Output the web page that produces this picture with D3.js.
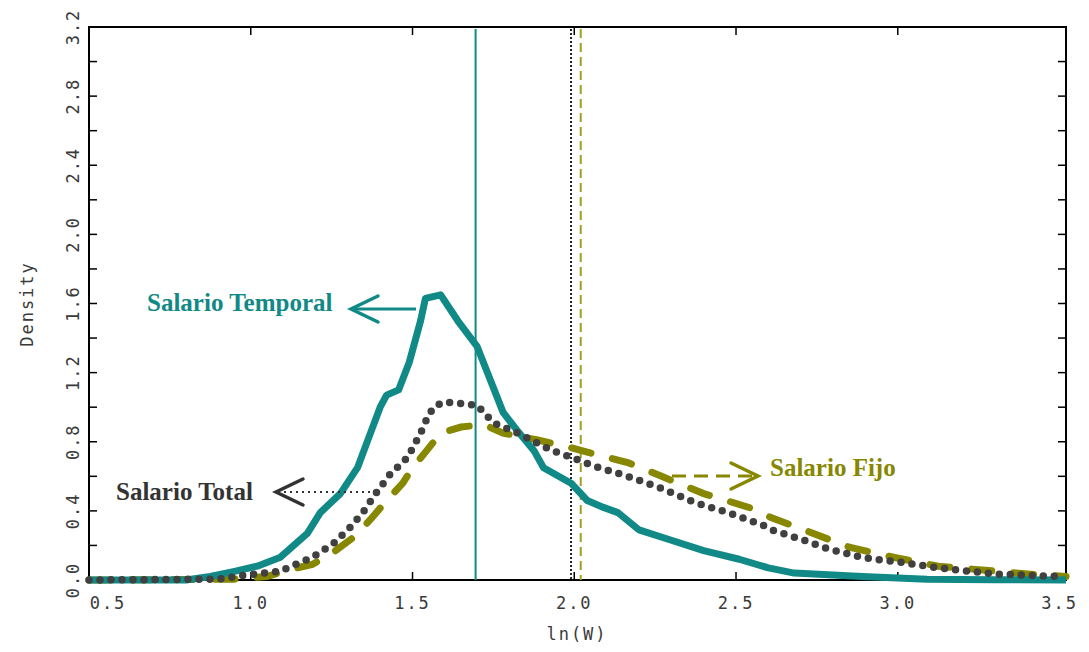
<!DOCTYPE html>
<html>
<head>
<meta charset="utf-8">
<script src="https://cdn.jsdelivr.net/npm/d3@7"></script>
<style>
  body { margin: 0; background: #fff; }
  svg { display: block; }
</style>
</head>
<body>
<svg id="chart"></svg>
<script>
// Salario Temporal (solid teal)
const temporalX = [0.5, 0.8, 0.875, 0.95, 1.02, 1.09, 1.175, 1.215, 1.277, 1.33, 1.37, 1.40, 1.42, 1.457, 1.49, 1.525, 1.54, 1.587, 1.64, 1.70, 1.74, 1.78, 1.83, 1.875, 1.905, 1.99, 2.04, 2.09, 2.135, 2.20, 2.30, 2.40, 2.51, 2.60, 2.68, 2.89, 3.09, 3.3, 3.52];
const temporalY = [0, 0, 0.02, 0.05, 0.08, 0.13, 0.27, 0.39, 0.50, 0.65, 0.85, 1.00, 1.07, 1.10, 1.26, 1.50, 1.63, 1.65, 1.50, 1.35, 1.16, 0.97, 0.85, 0.75, 0.65, 0.56, 0.46, 0.42, 0.39, 0.29, 0.23, 0.17, 0.12, 0.07, 0.04, 0.02, 0.005, 0.002, 0];

// Salario Total (dotted grey)
const totalX = [0.5, 0.9, 0.99, 1.09, 1.15, 1.19, 1.255, 1.31, 1.35, 1.39, 1.43, 1.485, 1.525, 1.546, 1.565, 1.596, 1.66, 1.70, 1.75, 1.825, 1.93, 1.99, 2.06, 2.165, 2.27, 2.37, 2.475, 2.58, 2.61, 2.71, 2.785, 2.89, 3.02, 3.125, 3.30, 3.50];
const totalY = [0, 0.005, 0.03, 0.05, 0.10, 0.13, 0.21, 0.31, 0.40, 0.51, 0.61, 0.71, 0.85, 0.94, 1.00, 1.03, 1.02, 1.01, 0.91, 0.85, 0.75, 0.71, 0.66, 0.60, 0.53, 0.45, 0.39, 0.32, 0.29, 0.23, 0.18, 0.13, 0.10, 0.07, 0.035, 0.02];

// Salario Fijo (dashed olive)
const fijoX = [0.5, 0.95, 1.05, 1.12, 1.19, 1.255, 1.32, 1.37, 1.42, 1.47, 1.50, 1.54, 1.587, 1.65, 1.72, 1.78, 1.887, 1.99, 2.06, 2.165, 2.27, 2.40, 2.54, 2.61, 2.71, 2.85, 2.99, 3.125, 3.40, 3.52];
const fijoY = [0, 0.005, 0.02, 0.06, 0.09, 0.16, 0.25, 0.35, 0.46, 0.56, 0.65, 0.74, 0.85, 0.885, 0.90, 0.85, 0.81, 0.765, 0.73, 0.68, 0.60, 0.50, 0.42, 0.36, 0.29, 0.19, 0.13, 0.08, 0.035, 0.02];

// vertical reference lines (means)
const meanTemporal = 1.695;
const meanTotal = 1.99;
const meanFijo = 2.02;

const xTicks = [0.5, 1.0, 1.5, 2.0, 2.5, 3.0, 3.5];
const yTicks = [0, 0.4, 0.8, 1.2, 1.6, 2.0, 2.4, 2.8, 3.2];
const yMinorTicks = [0.2, 0.6, 1.0, 1.4, 1.8, 2.2, 2.6, 3.0];

const width = 1089, height = 652;
const plotLeft = 89, plotRight = 1066, plotTop = 27, plotBottom = 580;

const teal = '#118986';
const grey = '#404040';
const olive = '#878700';

const svg = d3.select('#chart').attr('width', width).attr('height', height);

const x = d3.scaleLinear().domain([0.5, 3.52]).range([plotLeft, plotRight]);
const y = d3.scaleLinear().domain([0, 3.2]).range([plotBottom, plotTop]);

const tickFont = '"DejaVu Sans Mono", monospace';

// frame
svg.append('rect')
  .attr('x', plotLeft).attr('y', plotTop)
  .attr('width', plotRight - plotLeft).attr('height', plotBottom - plotTop)
  .attr('fill', 'none').attr('stroke', '#000').attr('stroke-width', 2);

// y ticks (inside, both sides)
const allY = yTicks.concat(yMinorTicks).filter(v => v > 0 && v < 3.2);
svg.append('g').selectAll('line').data(allY).join('line')
  .attr('x1', plotLeft).attr('x2', plotLeft + 8)
  .attr('y1', d => y(d)).attr('y2', d => y(d))
  .attr('stroke', '#000').attr('stroke-width', 1.5);
svg.append('g').selectAll('line').data(allY).join('line')
  .attr('x1', plotRight).attr('x2', plotRight - 8)
  .attr('y1', d => y(d)).attr('y2', d => y(d))
  .attr('stroke', '#000').attr('stroke-width', 1.5);

// x ticks (inside, bottom and top)
const innerX = xTicks.filter(v => v > 0.5 && v < 3.5);
svg.append('g').selectAll('line').data(innerX).join('line')
  .attr('x1', d => x(d)).attr('x2', d => x(d))
  .attr('y1', plotBottom).attr('y2', plotBottom - 8)
  .attr('stroke', '#000').attr('stroke-width', 1.5);
svg.append('g').selectAll('line').data(innerX).join('line')
  .attr('x1', d => x(d)).attr('x2', d => x(d))
  .attr('y1', plotTop).attr('y2', plotTop + 8)
  .attr('stroke', '#000').attr('stroke-width', 1.5);

// x tick labels
svg.append('g').selectAll('text').data(xTicks).join('text')
  .attr('x', (d, i) => x(d) + (i === 0 ? 19 : 0))
  .attr('y', 609)
  .attr('text-anchor', 'middle')
  .attr('font-family', tickFont)
  .attr('font-size', 17)
  .attr('letter-spacing', 2)
  .attr('fill', '#3a3a3a')
  .text(d => d.toFixed(1));

// y tick labels (rotated)
svg.append('g').selectAll('text').data(yTicks).join('text')
  .attr('transform', d => `translate(79,${y(d)}) rotate(-90)`)
  .attr('text-anchor', 'middle')
  .attr('font-family', tickFont)
  .attr('font-size', 17)
  .attr('letter-spacing', 2)
  .attr('fill', '#3a3a3a')
  .text(d => d.toFixed(1));

// axis titles
svg.append('text')
  .attr('transform', 'translate(33,304) rotate(-90)')
  .attr('text-anchor', 'middle')
  .attr('font-family', tickFont)
  .attr('font-size', 17)
  .attr('letter-spacing', 2)
  .attr('fill', '#3a3a3a')
  .text('Density');

svg.append('text')
  .attr('x', 577).attr('y', 640)
  .attr('text-anchor', 'middle')
  .attr('font-family', tickFont)
  .attr('font-size', 17)
  .attr('letter-spacing', 2)
  .attr('fill', '#3a3a3a')
  .text('ln(W)');

// vertical mean lines
svg.append('line')
  .attr('x1', x(meanTemporal)).attr('x2', x(meanTemporal))
  .attr('y1', plotTop + 2).attr('y2', plotBottom)
  .attr('stroke', teal).attr('stroke-width', 2);
svg.append('line')
  .attr('x1', x(meanTotal)).attr('x2', x(meanTotal))
  .attr('y1', plotTop + 2).attr('y2', plotBottom)
  .attr('stroke', '#222').attr('stroke-width', 2)
  .attr('stroke-dasharray', '2 2');
svg.append('line')
  .attr('x1', x(meanFijo)).attr('x2', x(meanFijo))
  .attr('y1', plotTop + 2).attr('y2', plotBottom)
  .attr('stroke', '#a0a020').attr('stroke-width', 2)
  .attr('stroke-dasharray', '9 5');

const line = d3.line().x(d => x(d[0])).y(d => y(d[1]));

// Salario Fijo dashed
svg.append('path')
  .datum(d3.zip(fijoX, fijoY))
  .attr('d', line)
  .attr('fill', 'none')
  .attr('stroke', olive)
  .attr('stroke-width', 7)
  .attr('stroke-linecap', 'round')
  .attr('stroke-dasharray', '20 22');

// Salario Temporal solid
svg.append('path')
  .datum(d3.zip(temporalX, temporalY))
  .attr('d', line)
  .attr('fill', 'none')
  .attr('stroke', teal)
  .attr('stroke-width', 7)
  .attr('stroke-linejoin', 'round');

// Salario Total dotted
svg.append('path')
  .datum(d3.zip(totalX, totalY))
  .attr('d', line)
  .attr('fill', 'none')
  .attr('stroke', grey)
  .attr('stroke-width', 7.5)
  .attr('stroke-linecap', 'round')
  .attr('stroke-dasharray', '0 11');

// annotations
const labelFont = '"Liberation Serif", "Times New Roman", serif';

function arrowHead(g, tipX, tipY, dir, color) {
  g.append('path')
    .attr('d', `M${tipX + dir * 27},${tipY - 13} L${tipX},${tipY} L${tipX + dir * 27},${tipY + 13}`)
    .attr('fill', 'none').attr('stroke', color).attr('stroke-width', 3.5)
    .attr('stroke-linecap', 'round').attr('stroke-linejoin', 'miter');
}

const ann = svg.append('g');

ann.append('text')
  .attr('x', 147).attr('y', 311)
  .attr('font-family', labelFont).attr('font-weight', 'bold').attr('font-size', 25)
  .attr('fill', teal).text('Salario Temporal');
ann.append('line')
  .attr('x1', 351).attr('x2', 416).attr('y1', 309).attr('y2', 309)
  .attr('stroke', teal).attr('stroke-width', 3);
arrowHead(ann, 351, 309, 1, teal);

ann.append('text')
  .attr('x', 116).attr('y', 500)
  .attr('font-family', labelFont).attr('font-weight', 'bold').attr('font-size', 25)
  .attr('fill', '#333').text('Salario Total');
ann.append('line')
  .attr('x1', 278).attr('x2', 370).attr('y1', 492).attr('y2', 492)
  .attr('stroke', '#333').attr('stroke-width', 2)
  .attr('stroke-dasharray', '2 4');
arrowHead(ann, 276, 492, 1, '#333');

ann.append('text')
  .attr('x', 770).attr('y', 476)
  .attr('font-family', labelFont).attr('font-weight', 'bold').attr('font-size', 25)
  .attr('fill', olive).text('Salario Fijo');
ann.append('line')
  .attr('x1', 672).attr('x2', 756).attr('y1', 476).attr('y2', 476)
  .attr('stroke', olive).attr('stroke-width', 3)
  .attr('stroke-dasharray', '14 8');
arrowHead(ann, 758, 476, -1, olive);
</script>
</body>
</html>
